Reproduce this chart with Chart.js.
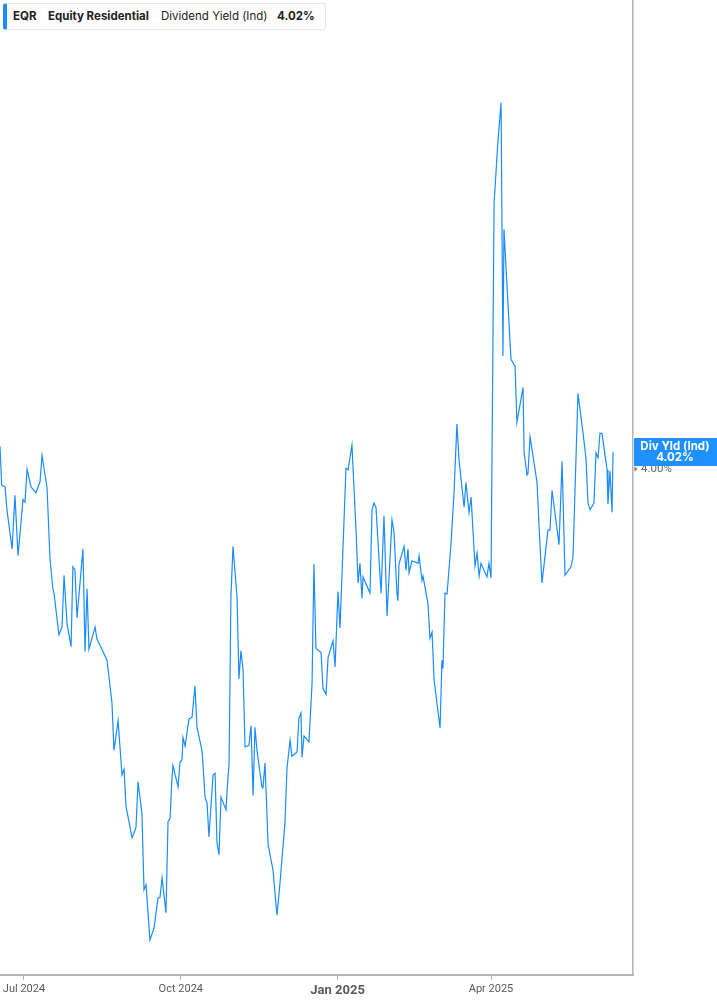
<!DOCTYPE html>
<html>
<head>
<meta charset="utf-8">
<style>
html, body { margin: 0; padding: 0; background: #fff; }
#wrap { position: relative; width: 717px; height: 1005px; }
#legend {
  position: absolute; left: 3px; top: 3px; width: 323px; height: 27px;
  border: 1px solid #e6e6e6; border-left: 4px solid #1a8cff; border-radius: 3px;
  box-sizing: border-box; background: #fff;
  font-family: Inter, "Noto Sans", sans-serif; font-size: 11.5px; color: #222;
}
#legend span { position: absolute; top: 5px; white-space: nowrap; }
#legend .b { font-weight: 700; }
</style>
<script src="https://cdn.jsdelivr.net/npm/chart.js"></script>
</head>
<body>
<div id="wrap">
  <canvas id="c" width="717" height="1005"></canvas>
  <div id="legend">
    <span class="b" style="left:6px">EQR</span>
    <span class="b" style="left:41px">Equity Residential</span>
    <span style="left:154px">Dividend Yield (Ind)</span>
    <span class="b" style="left:270px">4.02%</span>
  </div>
</div>
<script>
// days counted from 2024-07-01
const dayOffsets = [
  -14.1, -13.1, -11.1, -10.0, -7.0, -5.3, -3.5, -0.6, 0.6, 1.8,
  4.1, 7.0, 9.4, 10.6, 13.5, 15.3, 17.0, 17.6, 20.5, 22.3,
  23.5, 25.2, 27.6, 28.7, 29.9, 31.1, 34.6, 35.8, 37.0, 38.1,
  41.7, 42.8, 44.0, 46.4, 48.7, 51.6, 52.8, 55.2, 57.5, 58.7,
  59.8, 63.4, 65.7, 66.9, 69.2, 70.4, 71.6, 73.9, 76.3, 78.6,
  79.8, 81.0, 83.3, 84.5, 85.7, 86.8, 87.4, 90.4, 91.5, 92.7,
  93.3, 94.5, 96.8, 98.6, 100.3, 101.5, 104.4, 105.0, 106.2, 107.4,
  108.5, 110.9, 112.1, 113.2, 114.4, 115.6, 118.5, 119.7, 120.3, 121.4,
  122.6, 125.0, 126.1, 127.3, 128.5, 129.7, 132.0, 133.2, 134.4, 135.5,
  136.7, 139.6, 140.2, 141.4, 142.6, 143.2, 146.1, 148.4, 150.2, 153.1,
  154.3, 156.1, 157.2, 160.2, 161.3, 162.5, 163.1, 164.3, 167.2, 169.0,
  170.1, 171.3, 174.3, 175.4, 177.2, 178.4, 181.3, 182.5, 184.2, 185.4,
  188.9, 190.1, 192.4, 194.8, 196.0, 197.1, 198.3, 198.9, 203.0, 204.2,
  205.3, 206.5, 209.5, 211.2, 213.0, 215.9, 217.1, 218.8, 219.4, 220.0,
  223.0, 224.1, 225.3, 225.9, 227.6, 231.2, 231.8, 233.5, 234.1, 237.0,
  238.2, 239.4, 240.6, 244.1, 245.2, 245.8, 247.0, 248.2, 250.5, 252.3,
  254.0, 255.2, 258.2, 259.3, 261.1, 262.3, 264.6, 265.8, 267.0, 268.1,
  271.6, 272.8, 274.0, 275.8, 278.1, 279.9, 281.0, 281.6, 285.7, 288.1,
  289.2, 292.8, 293.4, 295.1, 295.7, 296.9, 301.0, 302.2, 303.9, 307.4,
  308.6, 309.8, 313.9, 315.7, 317.4, 320.9, 322.1, 325.0, 328.0, 329.7,
  330.9, 332.1, 334.4, 335.6, 336.8, 337.9, 339.1, 342.1, 342.6, 343.8,
  345.0, 345.6
];

const yields = [
  4.027, 3.981, 3.979, 3.952, 3.906, 3.969, 3.898, 3.964, 3.961, 4.000,
  3.979, 3.972, 3.985, 4.016, 3.978, 3.893, 3.858, 3.854, 3.805, 3.814,
  3.875, 3.819, 3.791, 3.885, 3.881, 3.825, 3.906, 3.785, 3.859, 3.788,
  3.814, 3.800, 3.795, 3.785, 3.775, 3.725, 3.669, 3.704, 3.640, 3.647,
  3.604, 3.566, 3.578, 3.632, 3.595, 3.505, 3.511, 3.446, 3.460, 3.495,
  3.496, 3.519, 3.478, 3.585, 3.589, 3.636, 3.651, 3.626, 3.655, 3.658,
  3.684, 3.674, 3.706, 3.708, 3.745, 3.696, 3.669, 3.654, 3.614, 3.607,
  3.567, 3.640, 3.642, 3.561, 3.546, 3.614, 3.599, 3.638, 3.652, 3.849,
  3.909, 3.849, 3.753, 3.786, 3.764, 3.673, 3.675, 3.698, 3.616, 3.696,
  3.669, 3.626, 3.625, 3.654, 3.591, 3.558, 3.528, 3.475, 3.513, 3.584,
  3.648, 3.681, 3.662, 3.667, 3.707, 3.713, 3.661, 3.686, 3.679, 3.748,
  3.888, 3.789, 3.784, 3.742, 3.735, 3.778, 3.798, 3.767, 3.856, 3.813,
  4.001, 3.999, 4.028, 3.928, 3.866, 3.889, 3.848, 3.873, 3.854, 3.952,
  3.960, 3.955, 3.854, 3.945, 3.827, 3.940, 3.926, 3.854, 3.845, 3.888,
  3.909, 3.881, 3.906, 3.878, 3.892, 3.889, 3.898, 3.869, 3.874, 3.842,
  3.801, 3.808, 3.752, 3.695, 3.775, 3.765, 3.854, 3.853, 3.911, 3.972,
  4.053, 4.011, 3.955, 3.984, 3.949, 3.967, 3.886, 3.901, 3.874, 3.889,
  3.873, 3.889, 3.872, 4.313, 4.387, 4.431, 4.133, 4.282, 4.129, 4.121,
  4.055, 4.096, 4.020, 3.993, 3.995, 4.038, 3.984, 3.932, 3.866, 3.928,
  3.928, 3.975, 3.911, 4.009, 3.875, 3.885, 3.896, 4.089, 4.042, 4.013,
  3.960, 3.952, 3.960, 4.019, 4.013, 4.042, 4.042, 3.999, 3.959, 3.998,
  3.949, 4.020
];

const tickDays = [0, 92, 184, 274];
const tickLabels = ['Jul 2024', 'Oct 2024', 'Jan 2025', 'Apr 2025'];
const yTicks = [4.00];
const lastLabel = 'Div Yld (Ind)';
const lastValue = 4.02;

const lineColor = '#1a8cff';
const axisColor = '#b4b4b4';

const lastBox = {
  id: 'lastBox',
  afterDraw(chart) {
    const ctx = chart.ctx;
    const ys = chart.scales.y;
    const x0 = chart.chartArea.right;
    const w = chart.width - x0;
    ctx.save();
    // small marker for the y tick
    yTicks.forEach(v => {
      const ty = ys.getPixelForValue(v);
      ctx.fillStyle = '#777';
      ctx.beginPath();
      ctx.moveTo(x0 + 1.5, ty - 2.5);
      ctx.lineTo(x0 + 4.5, ty);
      ctx.lineTo(x0 + 1.5, ty + 2.5);
      ctx.closePath();
      ctx.fill();
    });
    const y = ys.getPixelForValue(lastValue);
    ctx.fillStyle = '#1e90ff';
    ctx.fillRect(x0 + 1, y - 14, w - 1, 28);
    ctx.fillStyle = '#fff';
    ctx.font = 'bold 11.5px Inter, "Noto Sans", sans-serif';
    ctx.textAlign = 'center';
    ctx.textBaseline = 'middle';
    ctx.fillText(lastLabel, x0 + w / 2, y - 5.5);
    ctx.fillText(lastValue.toFixed(2) + '%', x0 + w / 2, y + 6);
    ctx.restore();
  }
};

new Chart(document.getElementById('c'), {
  type: 'line',
  data: {
    datasets: [{
      data: dayOffsets.map((d, i) => ({ x: d, y: yields[i] })),
      borderColor: lineColor,
      borderWidth: 1.2,
      pointRadius: 0,
      tension: 0,
      fill: false
    }]
  },
  options: {
    responsive: false,
    animation: false,
    layout: { padding: 0 },
    plugins: { legend: { display: false }, tooltip: { enabled: false } },
    scales: {
      x: {
        type: 'linear',
        min: -14.08,
        max: 357.3,
        afterBuildTicks: s => { s.ticks = tickDays.map(v => ({ value: v })); },
        afterFit: s => { s.height = 30; s.paddingLeft = 0; s.paddingRight = 0; },
        grid: { drawOnChartArea: false, drawTicks: true, tickLength: 5, color: axisColor },
        border: { display: true, color: axisColor, width: 2 },
        ticks: {
          autoSkip: false,
          maxRotation: 0,
          padding: 3,
          color: '#5a5a5a',
          callback: v => tickLabels[tickDays.indexOf(v)],
          font: c => (c.tick && c.tick.value === 184)
            ? { family: 'Roboto, sans-serif', size: 13, weight: 'bold' }
            : { family: 'Roboto, sans-serif', size: 11 }
        }
      },
      y: {
        position: 'right',
        min: 3.4047,
        max: 4.5518,
        afterBuildTicks: s => { s.ticks = yTicks.map(v => ({ value: v })); },
        afterFit: s => { s.width = 84; s.paddingTop = 0; s.paddingBottom = 0; },
        grid: { display: false },
        border: { display: true, color: axisColor, width: 1.5 },
        ticks: {
          padding: 0,
          color: '#666',
          font: { family: 'Roboto, sans-serif', size: 11.5 },
          callback: v => v.toFixed(2) + '%'
        }
      }
    }
  },
  plugins: [lastBox]
});
</script>
</body>
</html>
